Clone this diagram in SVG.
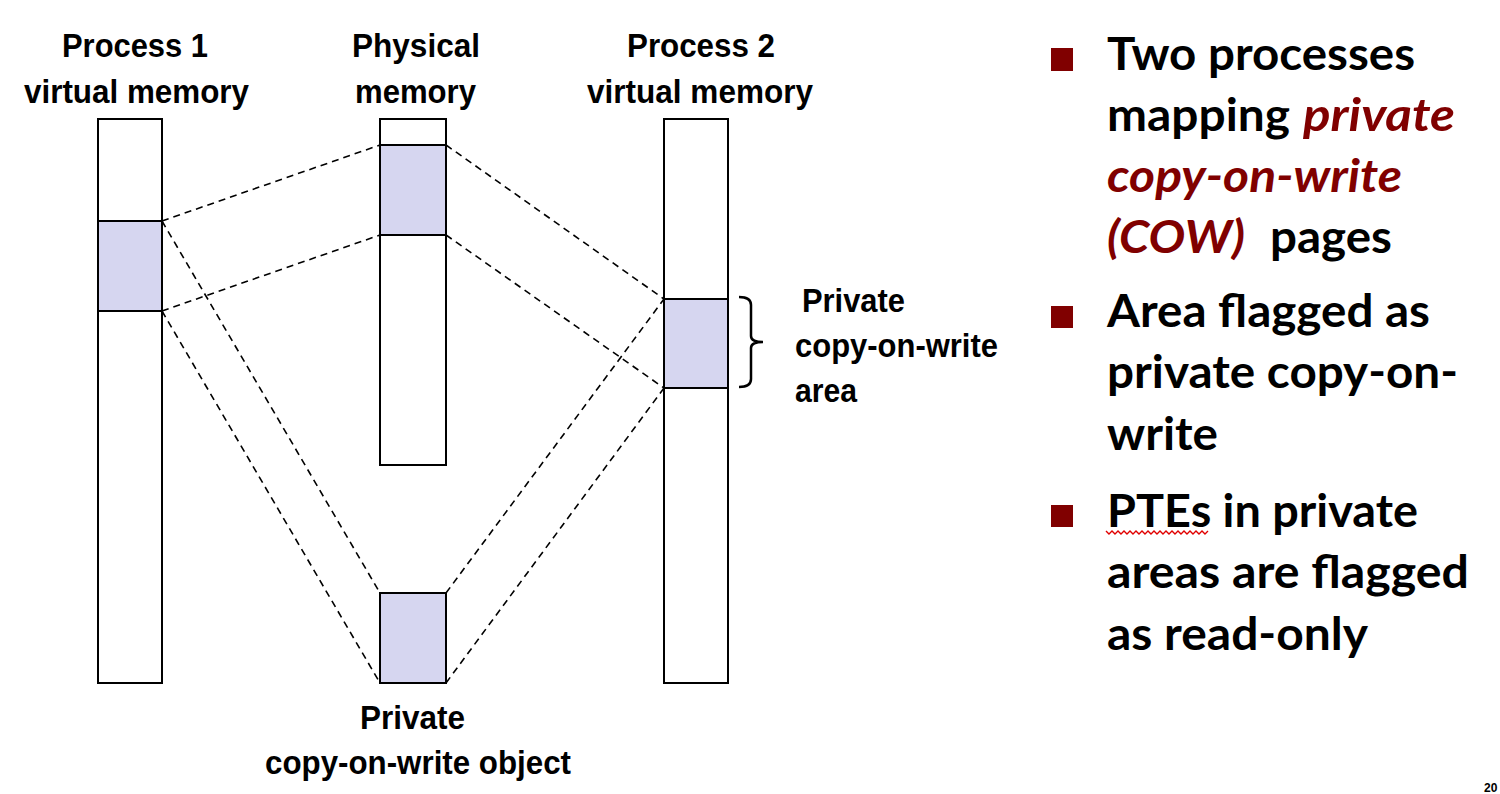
<svg xmlns="http://www.w3.org/2000/svg" width="1500" height="794" viewBox="0 0 1500 794">
<style>
.lbl{font-family:"Liberation Sans",Arial,sans-serif;font-weight:bold;font-size:33px;fill:#000}
.box{fill:#fff;stroke:#000;stroke-width:2}
.sh{fill:#D6D6F0;stroke:#000;stroke-width:2}
.dash{fill:none;stroke:#000;stroke-width:1.6;stroke-dasharray:7 5}
.bt{font-family:Lato,"Open Sans",sans-serif;font-weight:bold;font-size:46px;fill:#000}
.red{fill:#800000;font-style:italic}
.bul{fill:#800000}
</style>
<rect width="1500" height="794" fill="#fff"/>
<g id="connectors">
<line class="dash" x1="162" y1="221" x2="380" y2="145"/>
<line class="dash" x1="162" y1="311" x2="380" y2="235"/>
<line class="dash" x1="446" y1="145" x2="664" y2="299"/>
<line class="dash" x1="446" y1="235" x2="664" y2="388"/>
<line class="dash" x1="162" y1="221" x2="380" y2="593"/>
<line class="dash" x1="162" y1="311" x2="380" y2="683"/>
<line class="dash" x1="446" y1="593" x2="664" y2="299"/>
<line class="dash" x1="446" y1="683" x2="664" y2="388"/>
</g>
<g id="process1">
<rect class="box" x="98" y="119" width="64" height="564"/>
<rect class="sh" x="98" y="221" width="64" height="90"/>
<text class="lbl" x="62" y="57" textLength="146" lengthAdjust="spacingAndGlyphs">Process 1</text>
<text class="lbl" x="24" y="103" textLength="225" lengthAdjust="spacingAndGlyphs">virtual memory</text>
</g>
<g id="physical">
<rect class="box" x="380" y="119" width="66" height="346"/>
<rect class="sh" x="380" y="145" width="66" height="90"/>
<text class="lbl" x="352" y="57" textLength="128" lengthAdjust="spacingAndGlyphs">Physical</text>
<text class="lbl" x="355" y="103" textLength="121" lengthAdjust="spacingAndGlyphs">memory</text>
</g>
<g id="process2">
<rect class="box" x="664" y="119" width="64" height="564"/>
<rect class="sh" x="664" y="299" width="64" height="89"/>
<text class="lbl" x="627" y="57" textLength="148" lengthAdjust="spacingAndGlyphs">Process 2</text>
<text class="lbl" x="587" y="103" textLength="226" lengthAdjust="spacingAndGlyphs">virtual memory</text>
</g>
<g id="object">
<rect class="sh" x="380" y="593" width="66" height="90"/>
<text class="lbl" x="360" y="729" textLength="105" lengthAdjust="spacingAndGlyphs">Private</text>
<text class="lbl" x="265" y="774" textLength="306" lengthAdjust="spacingAndGlyphs">copy-on-write object</text>
</g>
<g id="area-label">
<path d="M739,297 Q751,297 751,305 L751,336 Q751,342 763,342 Q751,342 751,348 L751,379 Q751,387 739,387" fill="none" stroke="#000" stroke-width="2.5"/>
<text class="lbl" x="802" y="312" textLength="103" lengthAdjust="spacingAndGlyphs">Private</text>
<text class="lbl" x="795" y="357" textLength="203" lengthAdjust="spacingAndGlyphs">copy-on-write</text>
<text class="lbl" x="795" y="402" textLength="62" lengthAdjust="spacingAndGlyphs">area</text>
</g>
<g id="bullets">
<rect class="bul" x="1051" y="48" width="22" height="23"/>
<text class="bt" x="1107" y="70" textLength="308" lengthAdjust="spacingAndGlyphs">Two processes</text>
<text class="bt" x="1107" y="131" textLength="183" lengthAdjust="spacingAndGlyphs">mapping</text>
<text class="bt red" x="1303" y="131" textLength="152" lengthAdjust="spacingAndGlyphs">private</text>
<text class="bt red" x="1107" y="192" textLength="295" lengthAdjust="spacingAndGlyphs">copy-on-write</text>
<text class="bt red" x="1107" y="253" textLength="138" lengthAdjust="spacingAndGlyphs">(COW)</text>
<text class="bt" x="1270" y="253" textLength="122" lengthAdjust="spacingAndGlyphs">pages</text>
<rect class="bul" x="1051" y="306" width="22" height="22"/>
<text class="bt" x="1107" y="327" textLength="323" lengthAdjust="spacingAndGlyphs">Area flagged as</text>
<text class="bt" x="1107" y="388" textLength="351" lengthAdjust="spacingAndGlyphs">private copy-on-</text>
<text class="bt" x="1107" y="450" textLength="111" lengthAdjust="spacingAndGlyphs">write</text>
<rect class="bul" x="1051" y="505" width="22" height="22"/>
<text class="bt" x="1107" y="527" textLength="311" lengthAdjust="spacingAndGlyphs">PTEs in private</text>
<path d="M1106,531 l3,3 l3,-3 l3,3 l3,-3 l3,3 l3,-3 l3,3 l3,-3 l3,3 l3,-3 l3,3 l3,-3 l3,3 l3,-3 l3,3 l3,-3 l3,3 l3,-3 l3,3 l3,-3 l3,3 l3,-3 l3,3 l3,-3 l3,3 l3,-3 l3,3 l3,-3 l3,3 l3,-3 l3,3 l3,-3 l3,3 l3,-3" fill="none" stroke="#E00000" stroke-width="1.4"/>
<text class="bt" x="1107" y="588" textLength="362" lengthAdjust="spacingAndGlyphs">areas are flagged</text>
<text class="bt" x="1107" y="650" textLength="261" lengthAdjust="spacingAndGlyphs">as read-only</text>
</g>
<text class="lbl" x="1484" y="792" style="font-size:12px">20</text>
</svg>
